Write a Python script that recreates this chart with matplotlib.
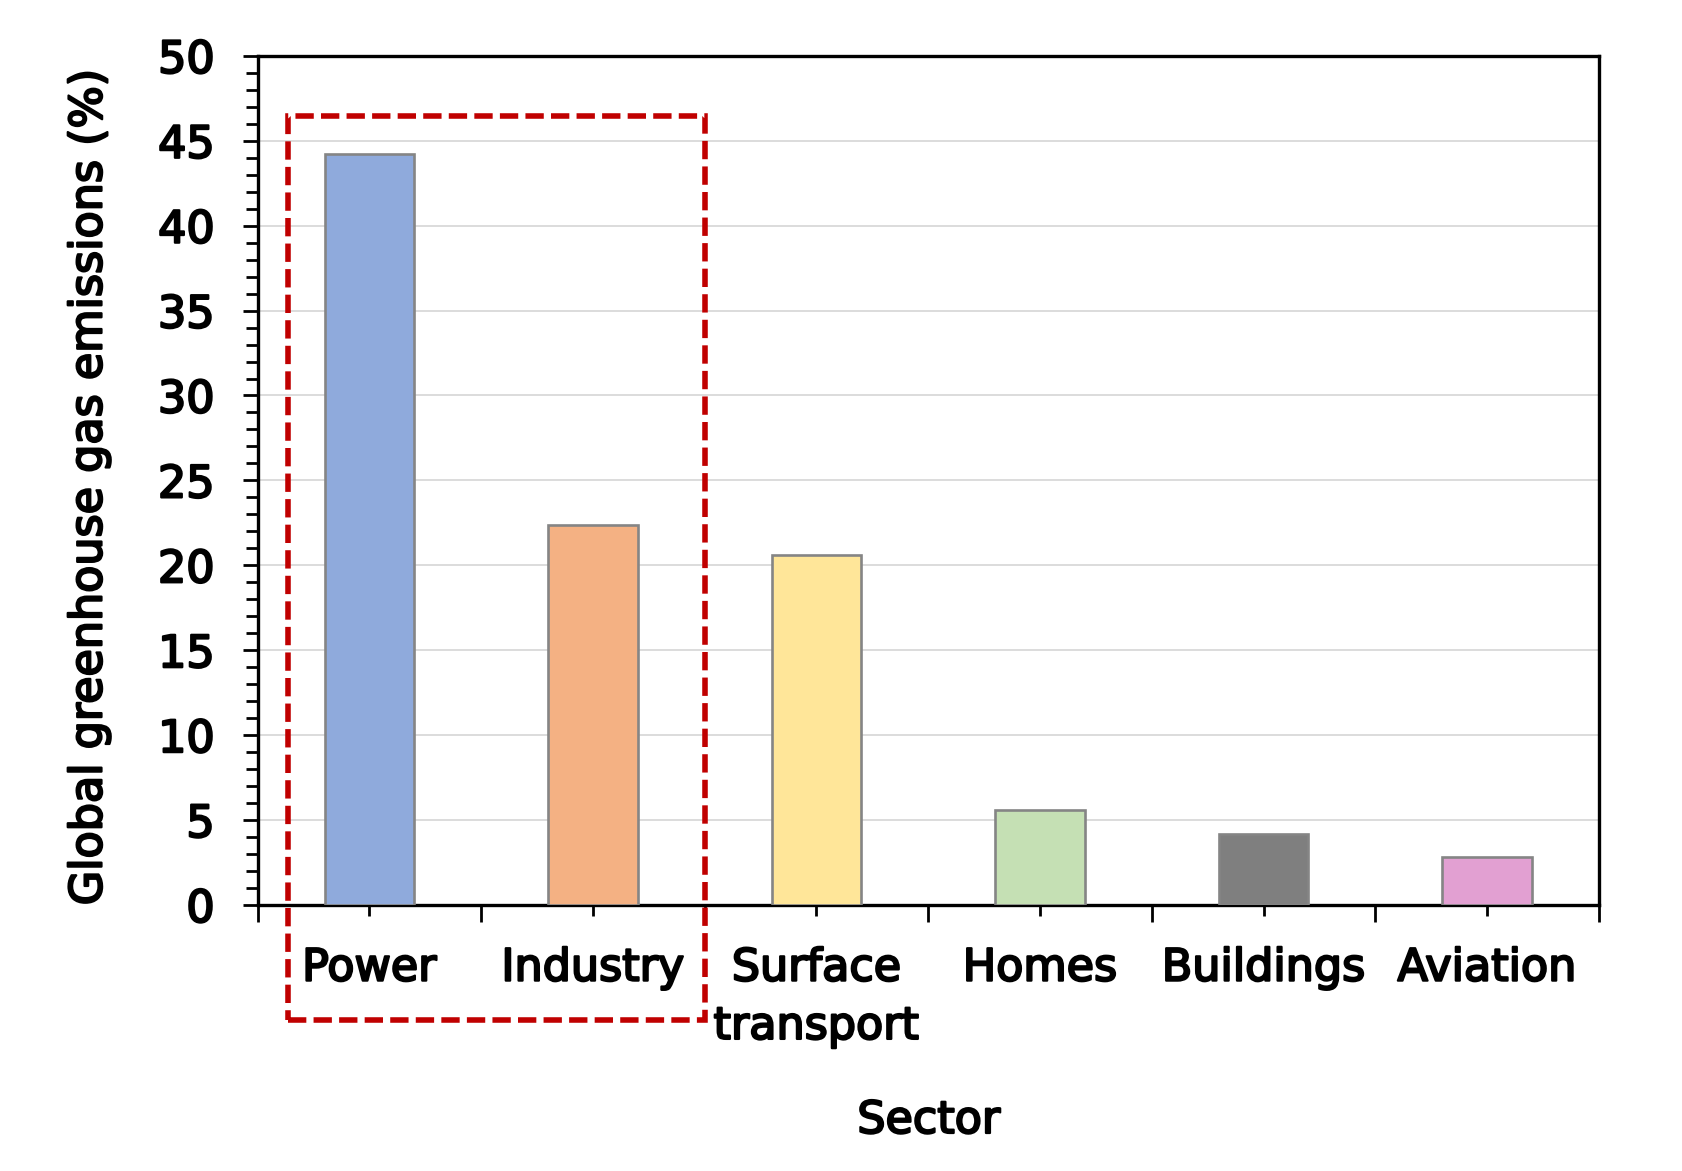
import matplotlib
matplotlib.use("Agg")
import matplotlib.pyplot as plt
import matplotlib.patheffects as pe
from matplotlib.patches import Rectangle
from matplotlib.ticker import MultipleLocator, FixedLocator

# Share of global greenhouse gas emissions by sector (%)
sectors = ["Power", "Industry", "Surface\ntransport", "Homes", "Buildings", "Aviation"]
emissions = [44.2, 22.4, 20.6, 5.6, 4.2, 2.8]
bar_colors = ["#8FAADC", "#F4B183", "#FFE699", "#C5E0B4", "#7F7F7F", "#E2A0D2"]
y_ticks = [0, 5, 10, 15, 20, 25, 30, 35, 40, 45, 50]

plt.rcParams["font.family"] = ["DejaVu Sans"]
FS = 32
heavy = [pe.withStroke(linewidth=1.6, foreground="black")]

fig = plt.figure(figsize=(16.83, 11.71), dpi=100)
ax = fig.add_axes([0.1531, 0.2272, 0.7969, 0.7251])

xpos = list(range(len(sectors)))
ax.bar(xpos, emissions, width=0.4, color=bar_colors, edgecolor="#858585",
       linewidth=1.9, zorder=3)

ax.set_xlim(-0.5, len(sectors) - 0.5)
ax.set_ylim(y_ticks[0], y_ticks[-1])
ax.set_yticks(y_ticks)
ax.yaxis.set_minor_locator(MultipleLocator(1))
ax.set_xticks(xpos)
ax.set_xticklabels(sectors)
ax.xaxis.set_minor_locator(FixedLocator([i - 0.5 for i in range(len(sectors) + 1)]))

ax.grid(axis="y", which="major", color="#D9D9D9", linewidth=1.3, zorder=0)
ax.set_axisbelow(True)
for spine in ax.spines.values():
    spine.set_linewidth(2.4)
    spine.set_color("black")

ax.tick_params(axis="y", which="major", direction="out", length=11, width=2.0,
               pad=20, labelsize=FS)
ax.tick_params(axis="y", which="minor", direction="out", length=8.5, width=2.0)
ax.tick_params(axis="x", which="major", direction="out", length=8, width=2.0,
               pad=22, labelsize=FS)
ax.tick_params(axis="x", which="minor", direction="out", length=12, width=2.0)

for lab in ax.get_xticklabels() + ax.get_yticklabels():
    lab.set_path_effects(heavy)
for lab in ax.get_xticklabels():
    lab.set_linespacing(1.45)

fig.text(929 / 1683, 1 - 1133 / 1171, "Sector", ha="center", va="baseline",
         fontsize=FS, path_effects=heavy)
fig.text(89 / 1683, 1 - 487 / 1171, "Global greenhouse gas emissions (%)",
         rotation=90, ha="center", va="center", fontsize=FS, path_effects=heavy)

# Dashed highlight around the two largest sectors
box_x0, box_x1 = -0.366, 1.5
box_y0, box_y1 = -6.75, 46.45
ax.add_patch(Rectangle((box_x0, box_y0), box_x1 - box_x0, box_y1 - box_y0,
                       transform=ax.transData, clip_on=False, fill=False,
                       edgecolor="#C00000", linewidth=4.0,
                       linestyle=(0, (3.3, 1.3)), joinstyle="miter", zorder=6))

fig.savefig("out.png", dpi=100, facecolor="white")
